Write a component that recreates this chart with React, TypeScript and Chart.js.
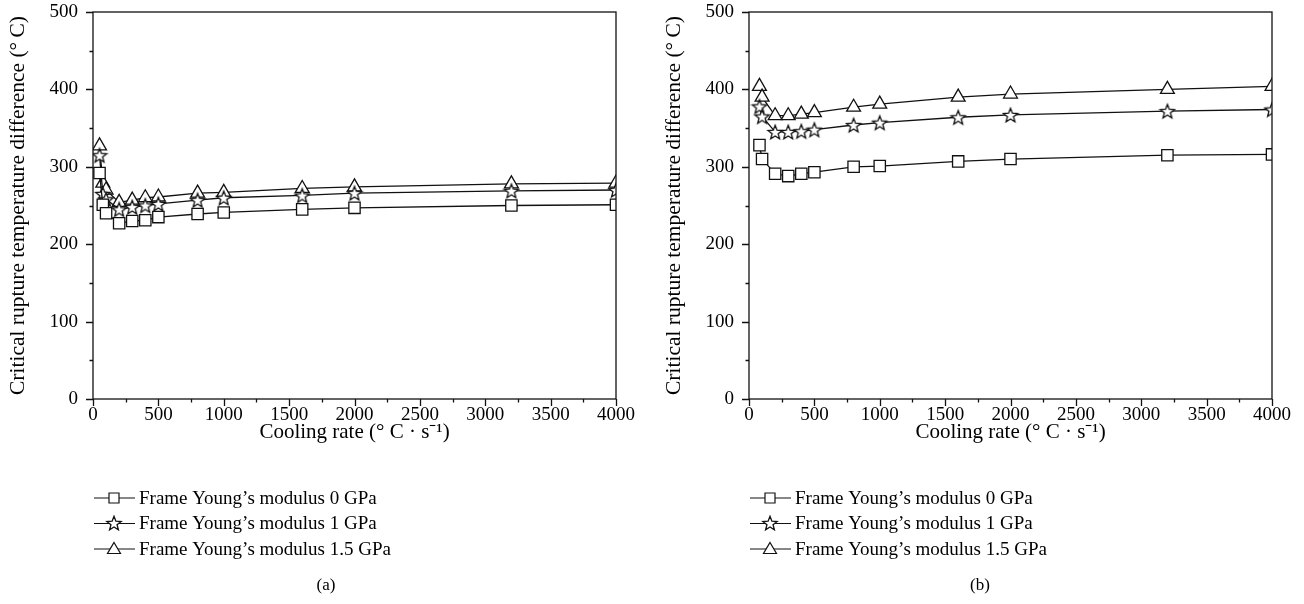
import React, { useEffect, useRef } from "react";
import { Chart, registerables } from "chart.js";

Chart.register(...registerables);

// ---------- data ----------
const seriesLabels = [
  "Frame Young\u2019s modulus 0 GPa",
  "Frame Young\u2019s modulus 1 GPa",
  "Frame Young\u2019s modulus 1.5 GPa",
];

// panel (a)
const coolingRateA = [50, 75, 100, 200, 300, 400, 500, 800, 1000, 1600, 2000, 3200, 4000];
const tempA_0GPa = [292, 251, 240, 227, 230, 231, 235, 239, 241, 245, 247, 250, 251];
const tempA_1GPa = [315, 265, 258, 245, 248, 250, 252, 257, 260, 263, 266, 269, 270];
const tempA_15GPa = [327, 279, 270, 254, 257, 260, 261, 266, 267, 272, 274, 278, 279];

// panel (b)
const coolingRateB = [80, 100, 200, 300, 400, 500, 800, 1000, 1600, 2000, 3200, 4000];
const tempB_0GPa = [328, 310, 291, 288, 291, 293, 300, 301, 307, 310, 315, 316];
const tempB_1GPa = [378, 365, 345, 345, 346, 348, 354, 357, 364, 367, 372, 374];
const tempB_15GPa = [404, 390, 366, 366, 368, 370, 377, 381, 390, 394, 400, 404];

// axes
const xMin = 0;
const xMax = 4000;
const xMajorStep = 500;
const xMinorStep = 250;
const yMin = 0;
const yMax = 500;
const yMajorStep = 100;
const yMinorStep = 50;

const xTitle = "Cooling rate (\u00B0 C \u00B7 s\u207B\u00B9)";
const yTitle = "Critical rupture temperature difference (\u00B0\u2009C)";

const FONT = "'Liberation Serif', 'Times New Roman', serif";
const INK = "#111";

// ---------- markers ----------
function makeStar(): HTMLCanvasElement {
  const c = document.createElement("canvas");
  c.width = 18;
  c.height = 18;
  const ctx = c.getContext("2d")!;
  ctx.beginPath();
  for (let i = 0; i < 10; i++) {
    const r = i % 2 === 0 ? 7.5 : 3.2;
    const a = -Math.PI / 2 + (i * Math.PI) / 5;
    ctx.lineTo(9 + r * Math.cos(a), 9.8 + r * Math.sin(a));
  }
  ctx.closePath();
  ctx.fillStyle = "#fff";
  ctx.fill();
  ctx.lineWidth = 1.3;
  ctx.strokeStyle = INK;
  ctx.stroke();
  return c;
}

function drawLegendMarker(ctx: CanvasRenderingContext2D, kind: number, x: number, y: number, star: HTMLCanvasElement) {
  ctx.save();
  ctx.fillStyle = "#fff";
  ctx.strokeStyle = INK;
  ctx.lineWidth = 1.2;
  if (kind === 0) {
    ctx.beginPath();
    ctx.rect(x - 5, y - 5, 10, 10);
    ctx.fill();
    ctx.stroke();
  } else if (kind === 1) {
    ctx.drawImage(star, x - 9, y - 9.5);
  } else {
    ctx.beginPath();
    ctx.moveTo(x, y - 6.5);
    ctx.lineTo(x + 6.5, y + 4.5);
    ctx.lineTo(x - 6.5, y + 4.5);
    ctx.closePath();
    ctx.fill();
    ctx.stroke();
  }
  ctx.restore();
}

function framePlugin(caption: string, star: HTMLCanvasElement) {
  return {
    id: "frameAndLegend",
    afterDraw(chart: any) {
      const { ctx, chartArea } = chart;
      const { left, right, top, bottom } = chartArea;
      const xs = chart.scales.x;
      const ys = chart.scales.y;
      ctx.save();
      ctx.strokeStyle = INK;
      ctx.lineWidth = 1.3;
      ctx.strokeRect(left, top, right - left, bottom - top);
      ctx.beginPath();
      for (let v = yMin; v <= yMax; v += yMinorStep) {
        const py = Math.round(ys.getPixelForValue(v)) + 0.5;
        const len = v % yMajorStep === 0 ? 7 : 3.5;
        ctx.moveTo(left - len, py);
        ctx.lineTo(left, py);
      }
      for (let v = xMin; v <= xMax; v += xMinorStep) {
        const px = Math.round(xs.getPixelForValue(v)) + 0.5;
        const len = v % xMajorStep === 0 ? 7 : 3.5;
        ctx.moveTo(px, bottom);
        ctx.lineTo(px, bottom + len);
      }
      ctx.stroke();

      // legend
      ctx.font = `19px ${FONT}`;
      ctx.textBaseline = "middle";
      ctx.textAlign = "left";
      ctx.fillStyle = "#000";
      chart.data.datasets.forEach((ds: any, i: number) => {
        const yy = 498 + i * 25.5;
        ctx.beginPath();
        ctx.lineWidth = 1.2;
        ctx.moveTo(left + 1, yy);
        ctx.lineTo(left + 42, yy);
        ctx.stroke();
        drawLegendMarker(ctx, i, left + 21, yy, star);
        ctx.fillText(ds.label, left + 46, yy + 1);
      });

      // caption, centred on the whole panel
      ctx.textAlign = "center";
      ctx.font = `17px ${FONT}`;
      ctx.fillText(caption, chart.width / 2, 586);
      ctx.restore();
    },
  };
}

function Panel(props: { left: number; width: number; xs: number[]; series: number[][]; caption: string }) {
  const ref = useRef<HTMLCanvasElement>(null);
  useEffect(() => {
    const star = makeStar();
    const styles: any[] = ["rect", star, "triangle"];
    const radii = [8, 8, 8];
    const datasets = props.series.map((vals, i) => ({
      label: seriesLabels[i],
      data: props.xs.map((x, j) => ({ x, y: vals[j] })),
      borderColor: INK,
      borderWidth: 1.3,
      backgroundColor: "#fff",
      pointStyle: styles[i],
      pointRadius: radii[i],
      pointBorderWidth: 1.3,
      pointBorderColor: INK,
      pointBackgroundColor: "#fff",
      tension: 0,
      fill: false,
    }));
    const chart = new Chart(ref.current!, {
      type: "line",
      data: { datasets },
      options: {
        animation: false,
        responsive: false,
        devicePixelRatio: 1,
        layout: { padding: { left: 0, top: 0, right: props.width - 616, bottom: 604 - 445 } },
        plugins: { legend: { display: false }, tooltip: { enabled: false } },
        scales: {
          x: {
            type: "linear",
            min: xMin,
            max: xMax,
            afterFit: (s: any) => {
              s.height = 46;
            },
            ticks: {
              stepSize: xMajorStep,
              color: "#000",
              font: { family: FONT, size: 19 },
              padding: 5,
              maxRotation: 0,
              callback: (v: any) => String(v),
            },
            grid: { display: true, drawOnChartArea: false, drawTicks: false },
            border: { display: false },
            title: { display: true, text: xTitle, color: "#000", font: { family: FONT, size: 21 }, padding: { top: 0, bottom: 0 } },
          },
          y: {
            type: "linear",
            min: yMin,
            max: yMax,
            afterFit: (s: any) => {
              s.width = 93;
              s.paddingTop = 12;
              s.paddingBottom = 0;
            },
            ticks: {
              stepSize: yMajorStep,
              color: "#000",
              font: { family: FONT, size: 19 },
              padding: 15,
              callback: (v: any) => String(v),
            },
            grid: { display: true, drawOnChartArea: false, drawTicks: false },
            border: { display: false },
            title: { display: true, text: yTitle, color: "#000", font: { family: FONT, size: 21.5 }, padding: { top: 5, bottom: 0 } },
          },
        },
      },
      plugins: [framePlugin(props.caption, star)],
    } as any);
    return () => chart.destroy();
  }, []);
  return (
    <canvas
      ref={ref}
      width={props.width}
      height={604}
      style={{ position: "absolute", left: props.left, top: 0, width: props.width, height: 604 }}
    />
  );
}

export default function App() {
  return (
    <div style={{ position: "fixed", left: 0, top: 0, width: 1304, height: 604, background: "#fff", overflow: "hidden" }}>
      <Panel left={0} width={652} xs={coolingRateA} series={[tempA_0GPa, tempA_1GPa, tempA_15GPa]} caption="(a)" />
      <Panel left={656} width={648} xs={coolingRateB} series={[tempB_0GPa, tempB_1GPa, tempB_15GPa]} caption="(b)" />
    </div>
  );
}
